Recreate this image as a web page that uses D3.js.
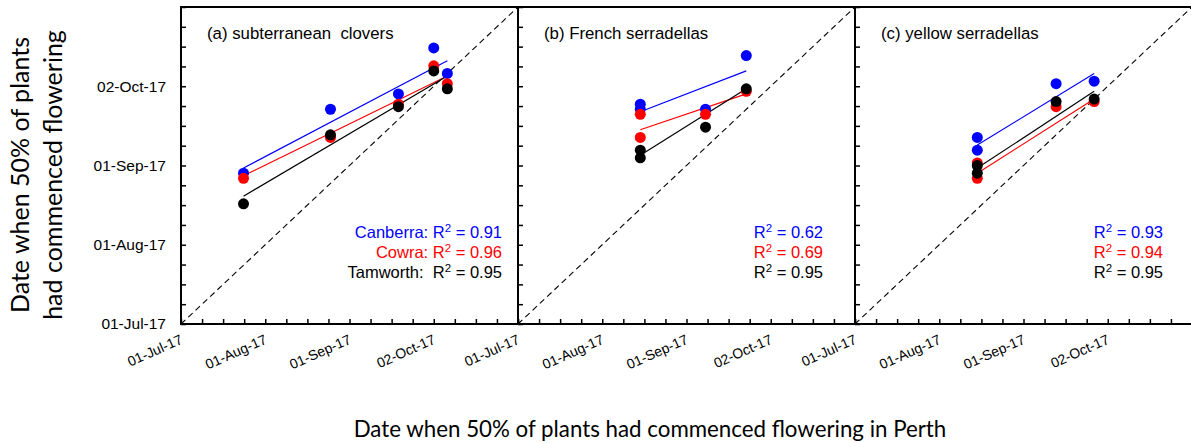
<!DOCTYPE html>
<html>
<head>
<meta charset="utf-8">
<script src="https://cdn.jsdelivr.net/npm/d3@7"></script>
<style>
  body { margin: 0; background: #fff; }
  svg { display: block; }
  .tick-lab { font-family: "Liberation Sans", Arial, sans-serif; fill: #000; }
</style>
</head>
<body>
<svg id="chart" width="1191" height="443"></svg>
<script>
// Date at which 50% of plants had commenced flowering:
// Perth (x) against the three eastern sites (y), for three legume groups.
const panelTitles = ["(a) subterranean  clovers", "(b) French serradellas", "(c) yellow serradellas"];
const sites = ["Canberra", "Cowra", "Tamworth"];
const siteColors = ["#0000ff", "#ff0000", "#000000"];
const tickLabels = ["01-Jul-17", "01-Aug-17", "01-Sep-17", "02-Oct-17"];
const axisStart = "2017-07-01";
const axisEnd = "2017-11-02";

// (a) subterranean clovers
const perthA    = ["2017-07-24", "2017-08-25", "2017-09-19", "2017-10-02", "2017-10-07"];
const canberraA = ["2017-08-29", "2017-09-23", "2017-09-29", "2017-10-17", "2017-10-07"];
const cowraA    = ["2017-08-27", "2017-09-12", "2017-09-25", "2017-10-10", "2017-10-03"];
const tamworthA = ["2017-08-17", "2017-09-13", "2017-09-24", "2017-10-08", "2017-10-01"];

// (b) French serradellas
const perthB    = ["2017-08-15", "2017-08-15", "2017-09-08", "2017-09-23"];
const canberraB = ["2017-09-25", "2017-09-23", "2017-09-23", "2017-10-14"];
const cowraB    = ["2017-09-21", "2017-09-12", "2017-09-21", "2017-09-30"];
const tamworthB = ["2017-09-07", "2017-09-04", "2017-09-16", "2017-10-01"];

// (c) yellow serradellas
const perthC    = ["2017-08-15", "2017-08-15", "2017-09-13", "2017-09-27"];
const canberraC = ["2017-09-12", "2017-09-07", "2017-10-03", "2017-10-04"];
const cowraC    = ["2017-09-02", "2017-08-27", "2017-09-24", "2017-09-26"];
const tamworthC = ["2017-09-01", "2017-08-29", "2017-09-26", "2017-09-27"];

// Fitted regression lines: site date at the earliest and latest Perth date
const fitA = [["2017-08-31", "2017-10-12"], ["2017-08-28", "2017-10-06"], ["2017-08-20", "2017-10-06"]];
const fitB = [["2017-09-22", "2017-10-08"], ["2017-09-15", "2017-09-29"], ["2017-09-05", "2017-10-01"]];
const fitC = [["2017-09-09", "2017-10-07"], ["2017-08-29", "2017-09-27"], ["2017-08-31", "2017-09-30"]];

// Coefficients of determination
const r2A = ["0.91", "0.96", "0.95"];
const r2B = ["0.62", "0.69", "0.95"];
const r2C = ["0.93", "0.94", "0.95"];

const panelData = [
  { title: panelTitles[0], x: perthA, ys: [canberraA, cowraA, tamworthA], fit: fitA, r2: r2A, named: true },
  { title: panelTitles[1], x: perthB, ys: [canberraB, cowraB, tamworthB], fit: fitB, r2: r2B, named: false },
  { title: panelTitles[2], x: perthC, ys: [canberraC, cowraC, tamworthC], fit: fitC, r2: r2C, named: false }
];

// ---- layout ----
const panelLeft = [181, 518, 855];
const panelW = 337;
const plotTop = 7, plotBottom = 324;
const legendRight = [502, 823, 1163];
const legendBase = [238, 258, 278];

const parse = d3.utcParse("%Y-%m-%d");
const parseLabel = d3.utcParse("%d-%b-%y");
const start = parse(axisStart), end = parse(axisEnd);
const majorTicks = tickLabels.map(parseLabel);
// minor ticks: four per 31-day major step
const spanDays = (end - start) / 864e5;
const minorTicks = d3.range(0, spanDays + 0.01, 31 / 4).map(d => new Date(+start + d * 864e5));

const svg = d3.select("#chart");

panelData.forEach((p, i) => {
  const x0 = panelLeft[i];
  const x = d3.scaleUtc().domain([start, end]).range([x0, x0 + panelW]);
  const y = d3.scaleUtc().domain([start, end]).range([plotBottom, plotTop]);
  const g = svg.append("g");

  // 1:1 line
  g.append("line")
    .attr("x1", x(start)).attr("y1", y(start))
    .attr("x2", x(end)).attr("y2", y(end))
    .attr("stroke", "#000").attr("stroke-width", 1.1)
    .attr("stroke-dasharray", "6,4");

  // inward minor ticks on bottom and left
  const xt = g.append("g").attr("transform", `translate(0,${plotBottom})`)
    .call(d3.axisBottom(x).tickValues(minorTicks).tickSize(-5).tickFormat(""));
  xt.select(".domain").remove();
  xt.selectAll("line").attr("stroke-width", 1.5);

  const yt = g.append("g").attr("transform", `translate(${x0},0)`)
    .call(d3.axisRight(y).tickValues(minorTicks).tickSize(5).tickFormat(""));
  yt.select(".domain").remove();
  yt.selectAll("line").attr("stroke-width", 1.5);

  // x tick labels (rotated)
  const xl = g.append("g").attr("transform", `translate(0,${plotBottom})`)
    .call(d3.axisBottom(x).tickValues(majorTicks).tickSize(0).tickFormat(d3.utcFormat("%d-%b-%y")));
  xl.select(".domain").remove();
  xl.selectAll("text")
    .attr("class", "tick-lab")
    .style("font-size", "14px")
    .attr("x", 0).attr("y", 0).attr("dy", 0)
    .attr("text-anchor", "end")
    .attr("transform", "translate(2,19) rotate(-24)");

  // y tick labels only on the first panel
  if (i === 0) {
    const yl = g.append("g").attr("transform", `translate(${x0},0)`)
      .call(d3.axisLeft(y).tickValues(majorTicks).tickSize(0).tickPadding(15).tickFormat(d3.utcFormat("%d-%b-%y")));
    yl.select(".domain").remove();
    yl.selectAll("text").attr("class", "tick-lab").style("font-size", "15.5px");
  }

  // regression lines
  const xs = p.x.map(parse);
  const [xMin, xMax] = d3.extent(xs);
  p.fit.forEach((f, s) => {
    g.append("line")
      .attr("x1", x(xMin)).attr("y1", y(parse(f[0])))
      .attr("x2", x(xMax)).attr("y2", y(parse(f[1])))
      .attr("stroke", siteColors[s]).attr("stroke-width", 1.2);
  });

  // points
  p.ys.forEach((ys, s) => {
    g.append("g").selectAll("circle")
      .data(ys.map((d, k) => [xs[k], parse(d)]))
      .join("circle")
      .attr("cx", d => x(d[0])).attr("cy", d => y(d[1]))
      .attr("r", 5.5)
      .attr("fill", siteColors[s]);
  });

  // frame
  g.append("rect")
    .attr("x", x0).attr("y", plotTop)
    .attr("width", panelW).attr("height", plotBottom - plotTop)
    .attr("fill", "none").attr("stroke", "#000").attr("stroke-width", 2);

  // panel title
  g.append("text")
    .attr("x", x0 + 26).attr("y", 39)
    .attr("xml:space", "preserve")
    .style("font-family", "'Liberation Sans', Arial, sans-serif")
    .style("font-size", "16.8px")
    .text(p.title);

  // R² legend
  p.r2.forEach((r, s) => {
    const t = g.append("text")
      .attr("x", legendRight[i]).attr("y", legendBase[s])
      .attr("text-anchor", "end")
      .attr("xml:space", "preserve")
      .attr("fill", siteColors[s])
      .style("font-family", "'Liberation Sans', Arial, sans-serif")
      .style("font-size", "16.5px");
    const prefix = p.named ? sites[s] + (s === 2 ? ":  " : ": ") : "";
    t.append("tspan").text(prefix + "R");
    t.append("tspan").attr("dy", -6).style("font-size", "11.5px").text("2");
    t.append("tspan").attr("dy", 6).text(" = " + r);
  });
});

// axis titles
const titleFont = "Lato, 'Open Sans', sans-serif";
svg.append("text")
  .attr("x", 650).attr("y", 437)
  .attr("text-anchor", "middle")
  .style("font-family", titleFont).style("font-size", "22.3px")
  .text("Date when 50% of plants had commenced flowering in Perth");

[["Date when 50% of plants", 29], ["had commenced flowering", 62]].forEach(([t, bx]) => {
  svg.append("text")
    .attr("transform", `translate(${bx},175) rotate(-90)`)
    .attr("text-anchor", "middle")
    .style("font-family", titleFont).style("font-size", "25px")
    .text(t);
});
</script>
</body>
</html>
